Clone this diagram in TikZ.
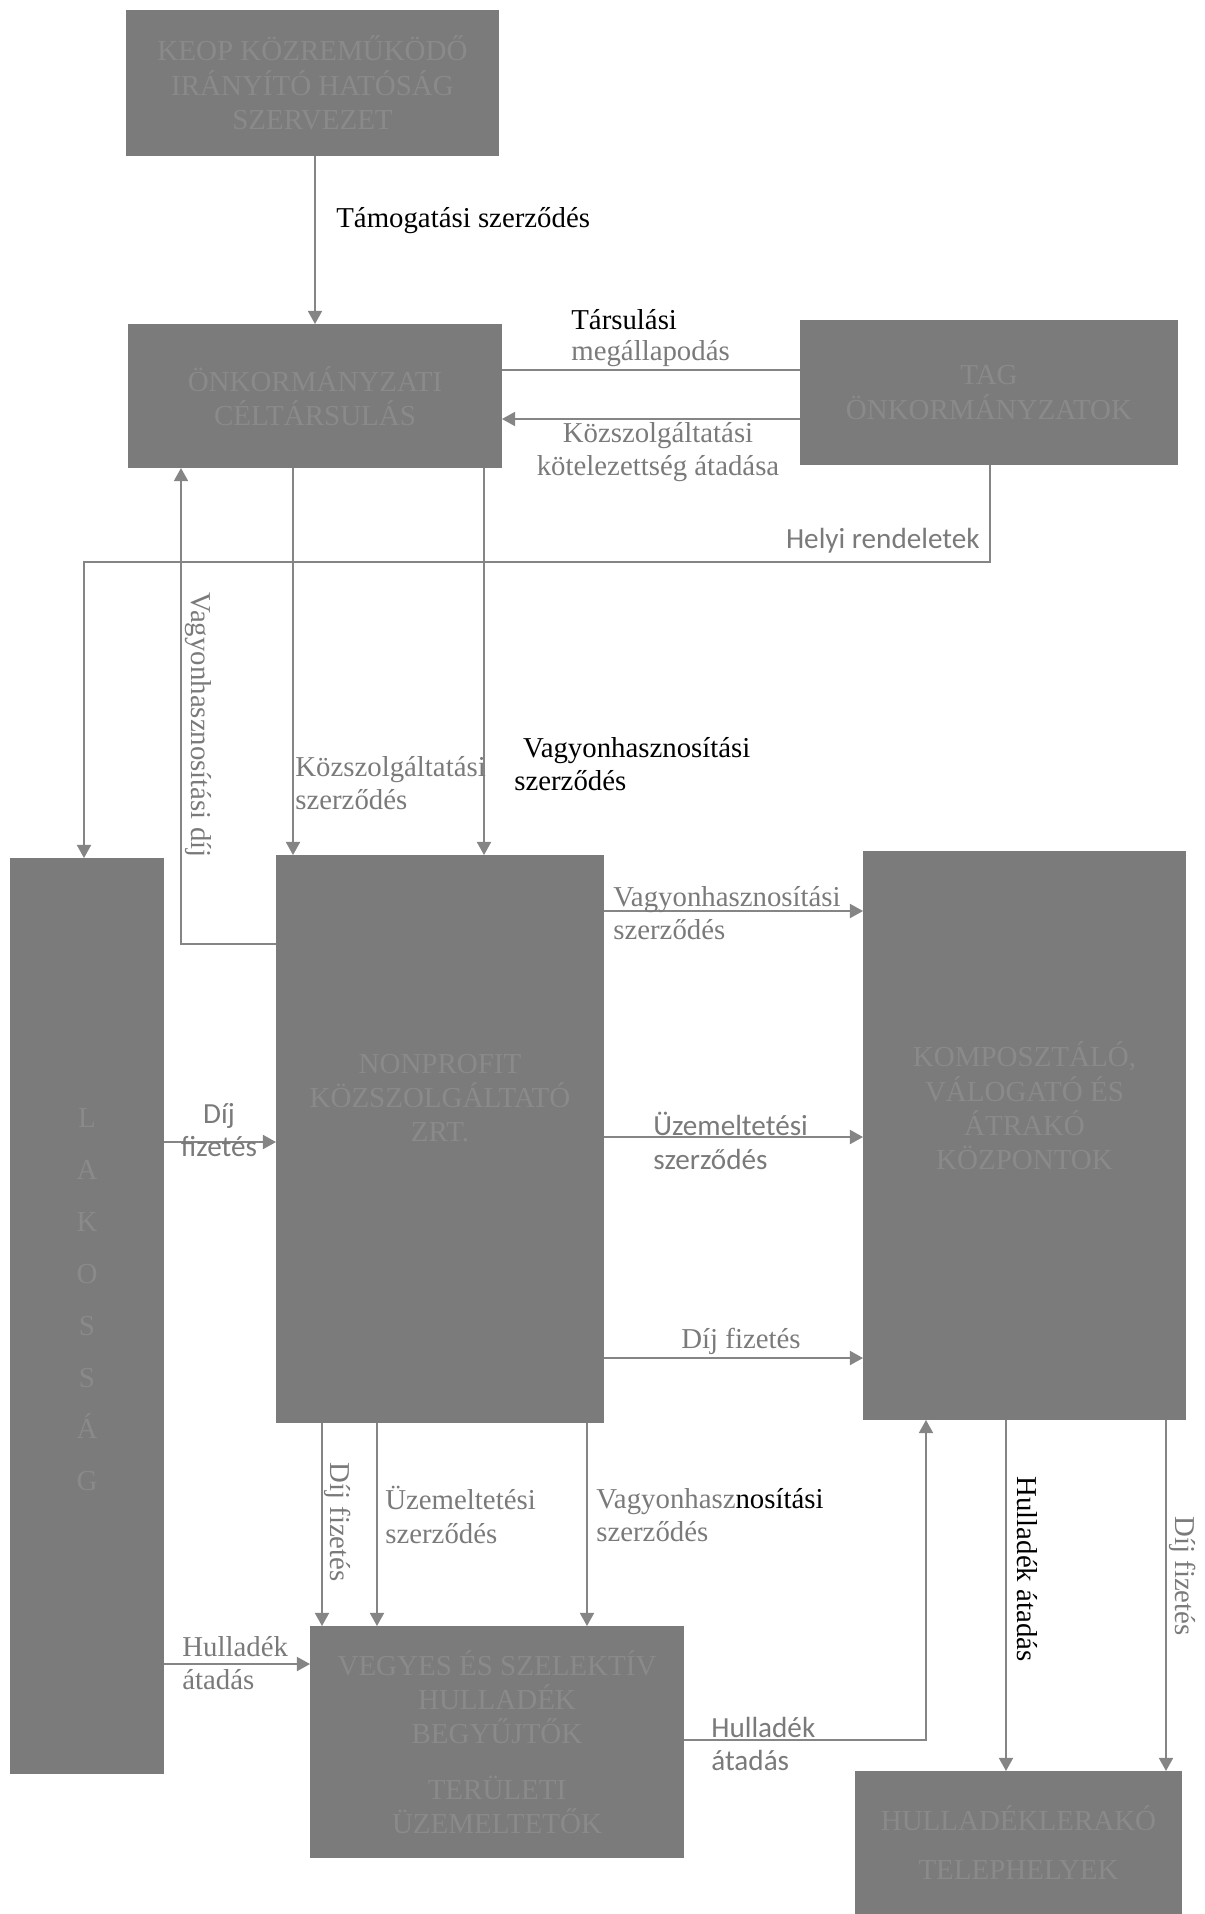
\documentclass[tikz,border=0pt]{standalone}
\usepackage{fontspec}
\setmainfont{Liberation Serif}
\newfontfamily\calibri{Carlito}
\usetikzlibrary{arrows.meta}

\definecolor{dobozszurke}{HTML}{7B7B7B}
\definecolor{dobozbetu}{HTML}{8A8A8A}
\definecolor{vonalszurke}{HTML}{858585}
\definecolor{cimkeszurke}{HTML}{7A7A7A}

\begin{document}
\begin{tikzpicture}[x=0.02cm, y=-0.02cm,
	doboz/.style={fill=dobozszurke, text=dobozbetu, inner sep=0pt, outer sep=0pt, align=center, font=\fontsize{16.5}{19.5}\selectfont},
	dobozszoveg/.style={text=dobozbetu, inner sep=0pt, align=center, font=\fontsize{16.5}{19.5}\selectfont},
	nyil/.style={draw=vonalszurke, line width=1.1pt, -{Triangle[length=7.5pt,width=8pt]}},
	vonal/.style={draw=vonalszurke, line width=1.1pt},
	cimke/.style={text=cimkeszurke, inner sep=0pt, align=left, font=\fontsize{16.4}{19}\selectfont},
	fekete/.style={cimke, text=black},
	sans/.style={cimke, font=\calibri\fontsize{16.6}{19}\selectfont}]
	\useasboundingbox (0,0) rectangle (1204,1914);

	% dobozok
	\node[doboz, minimum width=7.46cm, minimum height=2.92cm] (kozrem) at (312.5,83) {KEOP KÖZREMŰKÖDŐ\\IRÁNYÍTÓ HATÓSÁG\\SZERVEZET};
	\node[doboz, minimum width=7.48cm, minimum height=2.88cm] (tars) at (315,396) {ÖNKORMÁNYZATI\\CÉLTÁRSULÁS};
	\node[doboz, minimum width=7.56cm, minimum height=2.9cm] (onk) at (989,392.5) {TAG\\ÖNKORMÁNYZATOK};
	\node[doboz, minimum width=3.08cm, minimum height=18.32cm] (lak) at (87,1316) {};
	\node[doboz, minimum width=6.56cm, minimum height=11.36cm] (kszolg) at (440,1139) {};
	\node[doboz, minimum width=6.46cm, minimum height=11.38cm] (kozp) at (1024.5,1135.5) {};
	\node[doboz, minimum width=7.48cm, minimum height=4.64cm] (gyujt) at (497,1742) {VEGYES ÉS SZELEKTÍV\\HULLADÉK\\BEGYŰJTŐK\\[12pt]TERÜLETI\\ÜZEMELTETŐK};
	\node[doboz, minimum width=6.54cm, minimum height=2.86cm] (lerako) at (1018.5,1842.5) {HULLADÉKLERAKÓ\\[8pt]TELEPHELYEK};
	\node[dobozszoveg, font=\fontsize{16.5}{29.5}\selectfont] (lak-szoveg) at (87,1300) {L\\A\\K\\O\\S\\S\\Á\\G};
	\node[dobozszoveg] (kszolg-szoveg) at (440,1098) {NONPROFIT\\KÖZSZOLGÁLTATÓ\\ZRT.};
	\node[dobozszoveg] (kozp-szoveg) at (1024.5,1106) {KOMPOSZTÁLÓ,\\VÁLOGATÓ ÉS\\ÁTRAKÓ\\KÖZPONTOK};

	% kapcsolatok
	\draw[nyil] (kozrem.south -| tars.north) -- (tars.north);
	\draw[vonal] (tars.east |- 0,370) -- (onk.west |- 0,370);
	\draw[nyil] (onk.west |- 0,419) -- (tars.east |- 0,419);
	\draw[nyil] (onk.south -| 990,0) -- ++(0,97) -| (lak.north -| 84,0);
	\draw[nyil] (tars.south -| 293,0) -- (kszolg.north -| 293,0);
	\draw[nyil] (tars.south -| 484,0) -- (kszolg.north -| 484,0);
	\draw[nyil] (kszolg.west |- 0,944) -| (tars.south -| 181,0);
	\draw[nyil] (lak.east |- 0,1142) -- (kszolg.west |- 0,1142);
	\draw[nyil] (kszolg.east |- 0,911) -- (kozp.west |- 0,911);
	\draw[nyil] (kszolg.east |- 0,1137) -- (kozp.west |- 0,1137);
	\draw[nyil] (kszolg.east |- 0,1358) -- (kozp.west |- 0,1358);
	\draw[nyil] (kszolg.south -| 322,0) -- (gyujt.north -| 322,0);
	\draw[nyil] (kszolg.south -| 377,0) -- (gyujt.north -| 377,0);
	\draw[nyil] (kszolg.south -| 587,0) -- (gyujt.north -| 587,0);
	\draw[nyil] (lak.east |- 0,1664) -- (gyujt.west |- 0,1664);
	\draw[nyil] (gyujt.east |- 0,1740) -| (kozp.south -| 926,0);
	\draw[nyil] (kozp.south -| 1006,0) -- (lerako.north -| 1006,0);
	\draw[nyil] (kozp.south -| 1166,0) -- (lerako.north -| 1166,0);

	% feliratok
	\node[fekete, anchor=west] (tamogatasi) at (336,221) {Támogatási szerződés};
	\node[fekete, anchor=west] (tarsulasi) at (571,320) {Társulási};
	\node[cimke, anchor=west] (megallapodas) at (571,354) {megállapodás};
	\node[cimke, align=center] (kotelezettseg) at (658,452) {Közszolgáltatási\\kötelezettség átadása};
	\node[sans, anchor=east] (helyi) at (980,541) {Helyi rendeletek};
	\node[cimke, anchor=west] (kszszerz) at (295,783) {Közszolgáltatási\\szerződés};
	\node[fekete, anchor=west] (vhszerz) at (514,764) {\hspace{5pt}Vagyonhasznosítási\\szerződés};
	\node[cimke, rotate=-90] (vhdij) at (198,725) {Vagyonhasznosítási díj};
	\node[sans, align=center] (dijfiz1) at (219,1130) {Díj\\fizetés};
	\node[cimke, anchor=west] (vhszerz2) at (613,913) {Vagyonhasznosítási\\szerződés};
	\node[sans, anchor=west] (uzszerz) at (653,1141) {Üzemeltetési\\szerződés};
	\node[cimke] (dijfiz2) at (741,1341) {Díj fizetés};
	\node[cimke, rotate=-90] (dijfiz3) at (338,1522) {Díj fizetés};
	\node[cimke, anchor=west] (uzszerz2) at (385,1515) {Üzemeltetési\\szerződés};
	\node[cimke, anchor=west] (vhszerz3) at (596,1515) {Vagyonhasz\textcolor{black}{nosítási}\\szerződés};
	\node[cimke, anchor=west] (hullatad1) at (182,1663) {Hulladék\\átadás};
	\node[sans, anchor=west] (hullatad2) at (711,1744) {Hulladék\\átadás};
	\node[fekete, rotate=-90] (hullatad3) at (1027,1569) {Hulladék átadás};
	\node[cimke, rotate=-90] (dijfiz4) at (1183,1576) {Díj fizetés};
\end{tikzpicture}
\end{document}
